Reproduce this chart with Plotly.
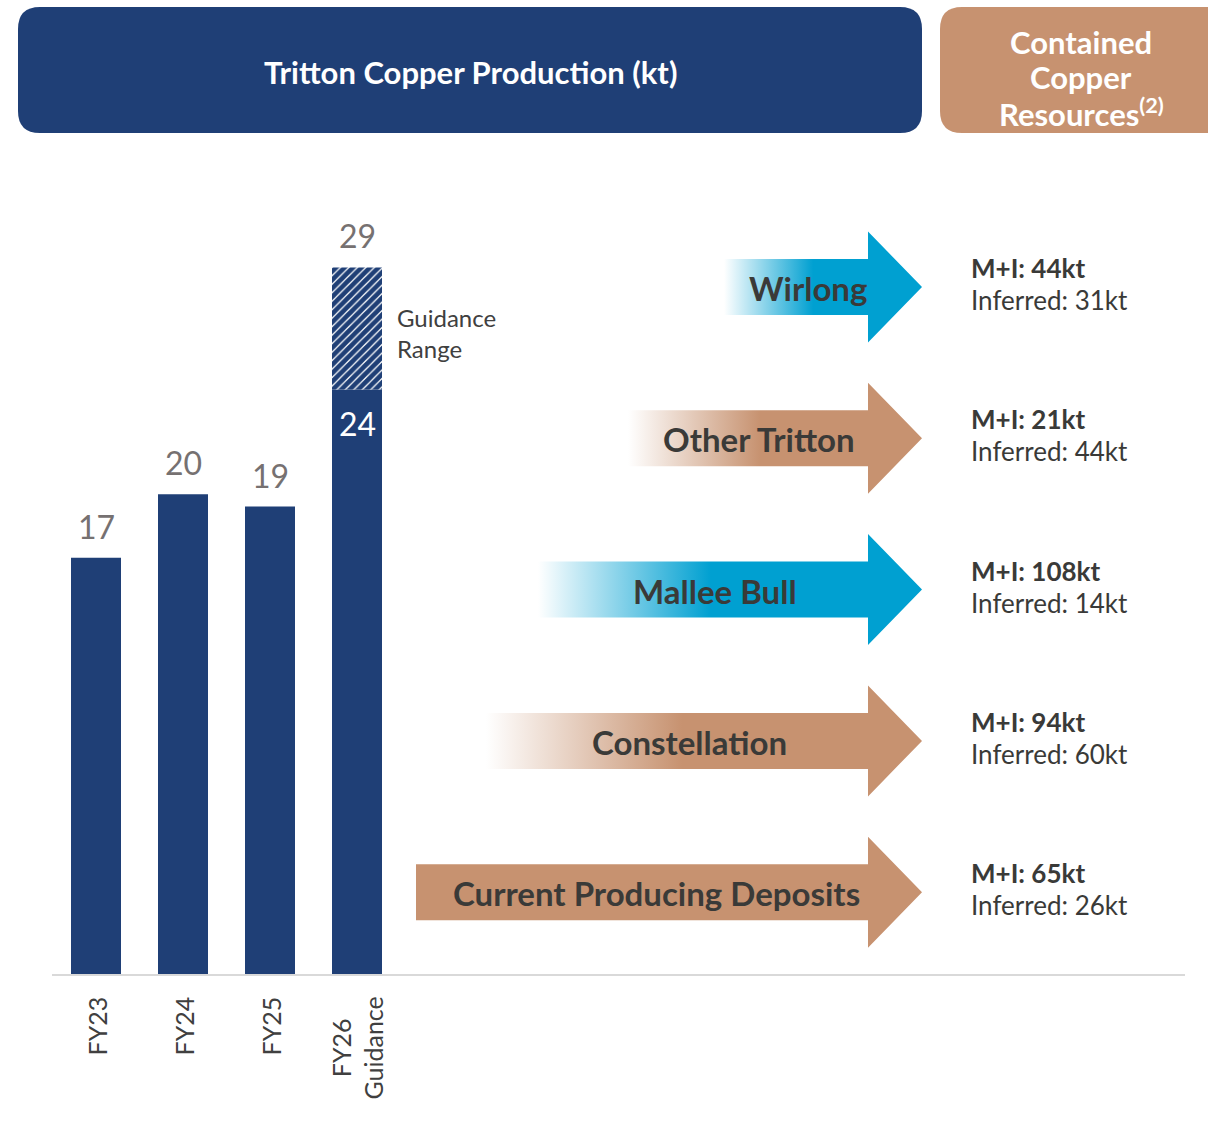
import plotly.graph_objects as go

W, H = 1208, 1123

# ---------------- data ----------------
categories = ["FY23", "FY24", "FY25", "FY26<br>Guidance"]
production = [17.1, 19.7, 19.2, 24.0]
guidance_low = 24
guidance_top = 29

deposits = ["Wirlong", "Other Tritton", "Mallee Bull", "Constellation", "Current Producing Deposits"]
mi_kt = [44, 21, 108, 94, 65]
inferred_kt = [31, 44, 14, 60, 26]

resource_header = ["Contained", "Copper", "Resources<sup>(2)</sup>"]

# ---------------- styles / layout constants ----------------
BLUE = "rgb(31,63,118)"
CYAN = (0, 160, 209)
TAN = (199, 146, 112)
GREY_NUM = "rgb(118,113,113)"
DARK = "rgb(58,58,56)"
FONT = "Lato"

arrow_rgb = [CYAN, TAN, CYAN, TAN, TAN]
arrow_left = [724, 628, 538, 486, 416]
arrow_fade = [True, True, True, True, False]
label_cx = [808, 759, 715, 689, 656]
row_y0, row_dy = 287, 151.3
body_h, head_h = 28, 55.5
head_x, tip_x = 868, 922

# bar axis geometry (pixels)
ax_left, ax_right, base_px = 52, 1185, 975
bar0_px, bar_step_px, bar_w_px = 96, 87, 50
px_per_unit = 24.4

fig = go.Figure()

# ---------------- bars ----------------
xs = list(range(len(categories)))
fig.add_trace(go.Bar(
    x=xs, y=production, width=bar_w_px / bar_step_px,
    marker=dict(color=BLUE, line=dict(width=0)),
    hoverinfo="skip", xaxis="x", yaxis="y", showlegend=False,
))
fig.add_trace(go.Bar(
    x=[xs[-1]], y=[guidance_top - guidance_low], base=[guidance_low],
    width=bar_w_px / bar_step_px,
    marker=dict(color=BLUE, line=dict(width=0),
                pattern=dict(shape="/", fgcolor=BLUE, bgcolor="white",
                             size=6, solidity=0.8, fgopacity=1)),
    hoverinfo="skip", xaxis="x", yaxis="y", showlegend=False,
))

annotations = []
# value labels
for i, v in enumerate(production[:-1]):
    annotations.append(dict(x=i, y=v, xref="x", yref="y", text=f"{v:.0f}",
                            showarrow=False, yanchor="bottom", yshift=10,
                            font=dict(family=FONT, size=32, color=GREY_NUM)))
annotations.append(dict(x=xs[-1], y=guidance_low, xref="x", yref="y", text=str(guidance_low),
                        showarrow=False, yanchor="top", yshift=-13,
                        font=dict(family=FONT, size=32, color="white")))
annotations.append(dict(x=xs[-1], y=guidance_top, xref="x", yref="y", text=str(guidance_top),
                        showarrow=False, yanchor="bottom", yshift=10,
                        font=dict(family=FONT, size=32, color=GREY_NUM)))
annotations.append(dict(x=395, y=333, xref="x2", yref="y2", text="Guidance<br>Range",
                        showarrow=False, xanchor="left", yanchor="middle", align="left",
                        font=dict(family=FONT, size=24, color="rgb(64,64,64)")))

# category labels (rotated)
for i, c in enumerate(categories):
    annotations.append(dict(x=i, y=1 - 995 / H, xref="x", yref="paper", text=c,
                            textangle=-90, showarrow=False, xanchor="center",
                            yanchor="top", align="center",
                            font=dict(family=FONT, size=25, color="rgb(64,64,64)")))

shapes = []
# baseline
shapes.append(dict(type="line", xref="x2", yref="y2", x0=ax_left, x1=ax_right,
                   y0=base_px, y1=base_px, line=dict(color="rgb(217,217,217)", width=2)))


def rounded(x0, y0, x1, y1, r):
    return (f"M{x0+r},{y0} L{x1-r},{y0} Q{x1},{y0} {x1},{y0+r} L{x1},{y1-r} "
            f"Q{x1},{y1} {x1-r},{y1} L{x0+r},{y1} Q{x0},{y1} {x0},{y1-r} "
            f"L{x0},{y0+r} Q{x0},{y0} {x0+r},{y0} Z")


shapes.append(dict(type="path", xref="x2", yref="y2", path=rounded(18, 7, 922, 133, 22),
                   fillcolor=BLUE, line=dict(width=0), layer="below"))
shapes.append(dict(type="path", xref="x2", yref="y2", path=rounded(940, 7, 1240, 133, 22),
                   fillcolor="rgb(%d,%d,%d)" % TAN, line=dict(width=0), layer="below"))
annotations.append(dict(x=470, y=72, xref="x2", yref="y2", text="<b>Tritton Copper Production (kt)</b>",
                        showarrow=False, font=dict(family=FONT, size=31, color="white")))
for j, line in enumerate(resource_header):
    annotations.append(dict(x=1081, y=42 + 35 * j, xref="x2", yref="y2",
                            text=f"<b>{line}</b>", showarrow=False,
                            font=dict(family=FONT, size=31, color="white")))

# ---------------- arrows ----------------
for i, name in enumerate(deposits):
    cy = row_y0 + row_dy * i
    xl = arrow_left[i]
    px = [xl, head_x, head_x, tip_x, head_x, head_x, xl, xl]
    py = [cy - body_h, cy - body_h, cy - head_h, cy, cy + head_h, cy + body_h, cy + body_h, cy - body_h]
    r, g, b = arrow_rgb[i]
    solid = f"rgb({r},{g},{b})"
    kw = dict(fillcolor=solid)
    if arrow_fade[i]:
        kw = dict(fillgradient=dict(type="horizontal",
                                    colorscale=[[0, f"rgba({r},{g},{b},0)"],
                                                [0.45, solid], [1, solid]]))
    fig.add_trace(go.Scatter(x=px, y=py, mode="lines", fill="toself",
                             line=dict(width=0, color=solid), hoverinfo="skip",
                             xaxis="x2", yaxis="y2", showlegend=False, **kw))
    annotations.append(dict(x=label_cx[i], y=cy + 1, xref="x2", yref="y2", text=f"<b>{name}</b>",
                            showarrow=False, font=dict(family=FONT, size=33, color=DARK)))
    annotations.append(dict(x=969, y=cy - 19, xref="x2", yref="y2", text=f"<b>M+I: {mi_kt[i]}kt</b>",
                            showarrow=False, xanchor="left", yanchor="middle",
                            font=dict(family=FONT, size=26, color=DARK)))
    annotations.append(dict(x=969, y=cy + 13, xref="x2", yref="y2", text=f"Inferred: {inferred_kt[i]}kt",
                            showarrow=False, xanchor="left", yanchor="middle",
                            font=dict(family=FONT, size=26, color=DARK)))

fig.update_layout(
    width=W, height=H, margin=dict(l=0, r=0, t=0, b=0),
    paper_bgcolor="white", plot_bgcolor="rgba(0,0,0,0)",
    barmode="overlay", showlegend=False,
    xaxis=dict(domain=[ax_left / W, ax_right / W],
               range=[(ax_left - bar0_px) / bar_step_px, (ax_right - bar0_px) / bar_step_px],
               visible=False, fixedrange=True),
    yaxis=dict(domain=[(H - base_px) / H, 1], range=[0, base_px / px_per_unit],
               visible=False, fixedrange=True),
    xaxis2=dict(domain=[0, 1], range=[0, W], visible=False, anchor="y2", fixedrange=True),
    yaxis2=dict(domain=[0, 1], range=[H, 0], visible=False, anchor="x2", fixedrange=True),
    shapes=shapes, annotations=annotations,
)

fig.write_html("out.html", config={"displayModeBar": False},
               post_script="document.body.style.margin='0';")
